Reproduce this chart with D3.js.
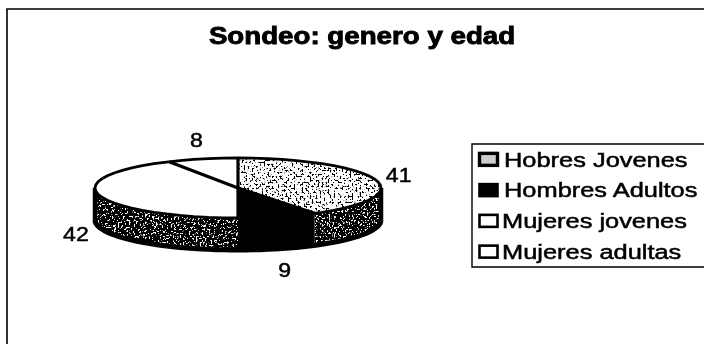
<!DOCTYPE html>
<html>
<head>
<meta charset="utf-8">
<script src="https://d3js.org/d3.v7.min.js"></script>
<style>
  html, body { margin: 0; padding: 0; background: #fff; overflow: hidden; }
  svg { filter: blur(0.45px); }
  text { font-family: "Liberation Sans", Arial, sans-serif; fill: #000; stroke: #000; stroke-width: 0.5px; }
  text.title { stroke-width: 0.9px; }
</style>
</head>
<body>
<div id="chart"></div>
<script>
// Data
const categories = ["Hobres Jovenes", "Hombres Adultos", "Mujeres jovenes", "Mujeres adultas"];
const values = [41, 9, 42, 8];
const chartTitle = "Sondeo: genero y edad";

// Sizes
const WIDTH = 704;
const HEIGHT = 344;
const CX = 238;
const CY = 188;
const RX = 143;
const RY = 30;
const DEPTH = 32;

// Fill for the top of each slice, then for its wall
const topFills = ["light", "#000", "#fff", "#fff"];
const wallFills = ["dark", "#000", "dark", "#fff"];

var svg = d3
  .select("#chart")
  .append("svg")
  .attr("width", WIDTH)
  .attr("height", HEIGHT)
  .style("display", "block");

var defs = svg.append("defs");

/* Speckle filter: keeps the source shape, punches grain into it */
function addSpeckle(id, seed, freq, slope, cut, base, grain) {
  var f = defs
    .append("filter")
    .attr("id", id)
    .attr("x", 0)
    .attr("y", 0)
    .attr("width", 1)
    .attr("height", 1);
  f.append("feFlood").attr("flood-color", base).attr("result", "base");
  f.append("feTurbulence")
    .attr("type", "fractalNoise")
    .attr("baseFrequency", freq)
    .attr("numOctaves", 2)
    .attr("seed", seed)
    .attr("result", "noise");
  f.append("feColorMatrix")
    .attr("in", "noise")
    .attr("type", "matrix")
    .attr("values", `0 0 0 0 ${grain}  0 0 0 0 ${grain}  0 0 0 0 ${grain}  ${slope} 0 0 0 ${cut}`)
    .attr("result", "specks");
  f.append("feMerge")
    .attr("result", "tex")
    .call((m) => {
      m.append("feMergeNode").attr("in", "base");
      m.append("feMergeNode").attr("in", "specks");
    });
  f.append("feComposite")
    .attr("in", "tex")
    .attr("in2", "SourceAlpha")
    .attr("operator", "in");
}

addSpeckle("light", 4, 0.5, 14, -7.4, "#fff", 0);
addSpeckle("dark", 9, 0.55, 14, -8.2, "#000", 1);

function fillOf(kind) {
  return kind === "light" || kind === "dark" ? "#888" : kind;
}
function filterOf(kind) {
  return kind === "light" || kind === "dark" ? `url(#${kind})` : null;
}

// Flattened pie: unit circle to screen
const xScale = d3.scaleLinear().domain([-1, 1]).range([CX - RX, CX + RX]);
const yScale = d3.scaleLinear().domain([-1, 1]).range([CY - RY, CY + RY]);

const rimPoint = (t) => [xScale(Math.sin(t)), yScale(-Math.cos(t))];
const rimPoints = (a, b) => d3.range(0, 61).map((i) => rimPoint(a + ((b - a) * i) / 60));
const path = d3.line();

const slices = d3.pie().sort(null)(values);

// Chart border, only left and top are in the frame
svg
  .append("path")
  .attr("d", path([[7, HEIGHT], [7, 9], [WIDTH, 9]]))
  .attr("fill", "none")
  .attr("stroke", "#000")
  .attr("stroke-width", 1.6);

// Title, the source is stretched sideways
svg
  .append("text")
  .attr("class", "title")
  .attr("transform", "translate(362, 44) scale(1.155, 1)")
  .attr("text-anchor", "middle")
  .attr("font-size", 24)
  .attr("font-weight", "bold")
  .text(chartTitle);

// Walls, front half of the rim only
const FRONT_A = Math.PI / 2;
const FRONT_B = (3 * Math.PI) / 2;
slices.forEach((s, i) => {
  const a = Math.max(s.startAngle, FRONT_A);
  const b = Math.min(s.endAngle, FRONT_B);
  if (a >= b) return;
  const upper = rimPoints(a, b);
  const lower = upper.map((p) => [p[0], p[1] + DEPTH]).reverse();
  svg
    .append("path")
    .attr("class", "wall")
    .attr("d", path(upper.concat(lower)) + "Z")
    .attr("fill", fillOf(wallFills[i]))
    .attr("filter", filterOf(wallFills[i]));
});

// Outline of the wall
const wallRim = rimPoints(FRONT_A, FRONT_B);
svg
  .append("path")
  .attr("d", path(wallRim.map((p) => [p[0], p[1] + DEPTH])))
  .attr("fill", "none")
  .attr("stroke", "#000")
  .attr("stroke-width", 5);
[FRONT_A, FRONT_B].forEach((t) => {
  const p = rimPoint(t);
  svg
    .append("path")
    .attr("d", path([p, [p[0], p[1] + DEPTH]]))
    .attr("stroke", "#000")
    .attr("stroke-width", 4.5);
});

// Top faces
slices.forEach((s, i) => {
  svg
    .append("path")
    .attr("class", "slice")
    .attr("d", path([[CX, CY]].concat(rimPoints(s.startAngle, s.endAngle))) + "Z")
    .attr("fill", fillOf(topFills[i]))
    .attr("filter", filterOf(topFills[i]));
});

// Slice edges on top
slices.forEach((s) => {
  svg
    .append("path")
    .attr("d", path([[CX, CY], rimPoint(s.startAngle)]))
    .attr("stroke", "#000")
    .attr("stroke-width", 3.2);
});
svg
  .append("path")
  .attr("d", path(rimPoints(0, 2 * Math.PI)) + "Z")
  .attr("fill", "none")
  .attr("stroke", "#000")
  .attr("stroke-width", 2.8);

// Value labels around the rim
slices.forEach((s, i) => {
  const mid = (s.startAngle + s.endAngle) / 2;
  const front = Math.cos(mid) < 0;
  const x = CX + Math.sin(mid) * RX * 1.17;
  const y = CY - Math.cos(mid) * RY * 1.67 + (front ? DEPTH + 1 : 0);
  svg
    .append("text")
    .attr("transform", `translate(${x}, ${y}) scale(1.1, 1)`)
    .attr("dy", "0.36em")
    .attr("text-anchor", "middle")
    .attr("font-size", 21)
    .text(values[i]);
});

// Legend, runs off the right edge like the source
var legend = svg.append("g").attr("transform", "translate(472, 144)");

legend
  .append("path")
  .attr("d", path([[WIDTH, 0], [0, 0], [0, 123], [WIDTH, 123]]))
  .attr("fill", "none")
  .attr("stroke", "#000")
  .attr("stroke-width", 1.4);

const rowY = d3.scaleBand().domain(categories).range([0, 123]);

var rows = legend
  .selectAll("g.row")
  .data(categories)
  .enter()
  .append("g")
  .attr("class", "row")
  .attr("transform", (d) => `translate(0, ${rowY(d) + rowY.bandwidth() / 2})`);

rows
  .append("rect")
  .attr("x", 7.5)
  .attr("y", -6)
  .attr("width", 18)
  .attr("height", 12)
  .attr("fill", (d, i) => (i === 1 ? "#000" : i === 0 ? "#ccc" : "#fff"))
  .attr("stroke", "#000")
  .attr("stroke-width", (d, i) => (i === 0 ? 3.4 : 2.6));

rows
  .append("text")
  .attr("transform", (d, i) => `translate(${i < 2 ? 32 : 30}, 0) scale(1.27, 1)`)
  .attr("dy", "0.36em")
  .attr("font-size", 20)
  .text((d) => d);
</script>
</body>
</html>
